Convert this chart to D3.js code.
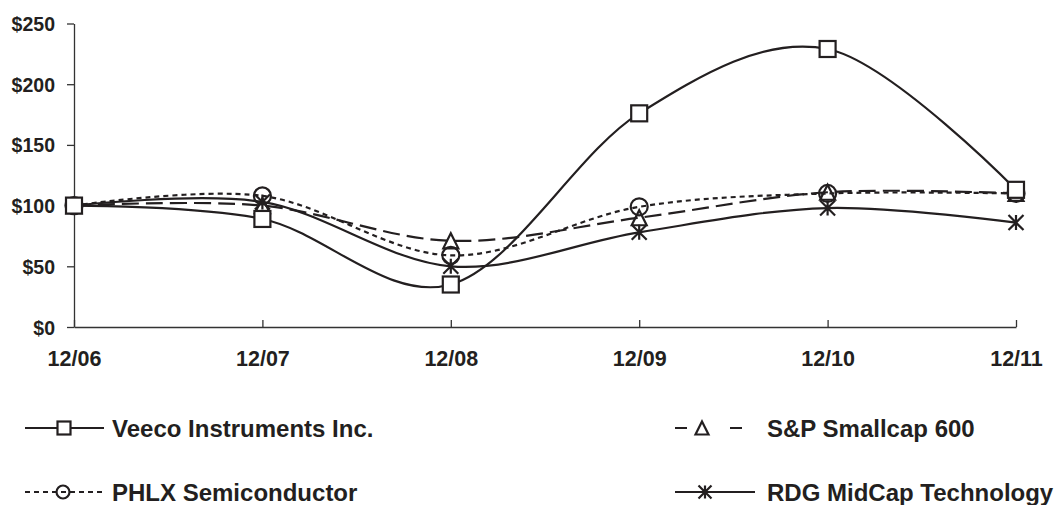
<!DOCTYPE html>
<html>
<head>
<meta charset="utf-8">
<script src="https://cdn.jsdelivr.net/npm/d3@7"></script>
<style>
  html, body { margin: 0; padding: 0; background: #fff; }
  svg { display: block; }
  text { font-family: "Liberation Sans", Arial, sans-serif; font-weight: bold; fill: #231f20; }
</style>
</head>
<body>
<svg id="chart" width="1058" height="505"></svg>
<script>
// ---- data ----
const categories = ["12/06", "12/07", "12/08", "12/09", "12/10", "12/11"];
const veeco = [100, 89, 35, 176, 229, 113];
const smallcap = [100, 100, 71, 90, 111, 110];
const phlx = [100, 108, 59, 99, 110, 110];
const rdg = [100, 103, 50, 78, 98, 86];
const yTicks = [0, 50, 100, 150, 200, 250];
const seriesNames = ["Veeco Instruments Inc.", "S&P Smallcap 600", "PHLX Semiconductor", "RDG MidCap Technology"];

const ink = "#231f20";
const svg = d3.select("#chart");

const x = d3.scalePoint().domain(categories).range([74, 1016]);
const y = d3.scaleLinear().domain([0, 250]).range([327, 23.5]);

// axes
const yAxis = svg.append("g").attr("transform", "translate(74,0)")
  .call(d3.axisLeft(y).tickValues(yTicks).tickSize(7).tickSizeOuter(0).tickFormat(d => "$" + d));
yAxis.select(".domain").attr("stroke", "#333").attr("stroke-width", 1.3);
yAxis.selectAll(".tick line").attr("stroke", "#333").attr("stroke-width", 1.3);
yAxis.selectAll(".tick text").attr("x", -19).attr("dy", "0.36em")
  .style("font-size", "19.5px").attr("fill", ink);

const xAxis = svg.append("g").attr("transform", "translate(0,327)")
  .call(d3.axisBottom(x).tickSize(-7).tickSizeOuter(0));
xAxis.select(".domain").attr("stroke", "#333").attr("stroke-width", 1.3);
xAxis.selectAll(".tick line").attr("stroke", "#333").attr("stroke-width", 1.3);
xAxis.selectAll(".tick text").attr("y", 39).attr("dy", 0)
  .style("font-size", "21.5px").attr("fill", ink);

// lines
const series = [
  { name: seriesNames[0], values: veeco, dash: null, marker: "square" },
  { name: seriesNames[1], values: smallcap, dash: "17,7", marker: "triangle" },
  { name: seriesNames[2], values: phlx, dash: "5,4", marker: "circle" },
  { name: seriesNames[3], values: rdg, dash: null, marker: "star" }
];

const line = d3.line()
  .x((d, i) => x(categories[i]))
  .y(d => y(d))
  .curve(d3.curveCardinal.tension(0));

function drawMarker(g, type, cx, cy, s) {
  const h = s / 2;
  if (type === "square") {
    g.append("rect").attr("x", cx - h).attr("y", cy - h).attr("width", s).attr("height", s)
      .attr("fill", "#fff").attr("stroke", ink).attr("stroke-width", 2.2);
  } else if (type === "circle") {
    g.append("circle").attr("cx", cx).attr("cy", cy).attr("r", h)
      .attr("fill", "none").attr("stroke", ink).attr("stroke-width", 2.2);
  } else if (type === "triangle") {
    g.append("path").attr("d", `M${cx},${cy - h}L${cx + h},${cy + h}L${cx - h},${cy + h}Z`)
      .attr("fill", "none").attr("stroke", ink).attr("stroke-width", 2.2);
  } else if (type === "star") {
    g.append("path").attr("d",
      `M${cx - h},${cy - h}L${cx + h},${cy + h}M${cx + h},${cy - h}L${cx - h},${cy + h}M${cx},${cy - h}L${cx},${cy + h}`)
      .attr("fill", "none").attr("stroke", ink).attr("stroke-width", 2.2);
  }
}

const plot = svg.append("g");
series.forEach(s => {
  plot.append("path").datum(s.values).attr("d", line)
    .attr("fill", "none").attr("stroke", ink).attr("stroke-width", 2.2)
    .attr("stroke-dasharray", s.dash);
});
// markers drawn in reverse so Veeco squares sit on top
[...series].reverse().forEach(s => {
  const g = plot.append("g");
  s.values.forEach((v, i) => {
    const size = s.marker === "circle" ? 17 : (s.marker === "square" ? 16 : 15);
    drawMarker(g, s.marker, x(categories[i]), y(v), size);
  });
});

// legend
const legendItems = [
  { s: series[0], x1: 25, x2: 104, mx: 64, y: 428, tx: 112 },
  { s: series[1], x1: 675, x2: 757, mx: 702, y: 428, tx: 767 },
  { s: series[2], x1: 25, x2: 105, mx: 63, y: 492, tx: 112 },
  { s: series[3], x1: 675, x2: 755, mx: 705, y: 492, tx: 767 }
];
const leg = svg.append("g");
legendItems.forEach(it => {
  const g = leg.append("g");
  if (it.s.marker === "triangle") {
    g.append("line").attr("x1", it.x1).attr("x2", it.x1 + 12).attr("y1", it.y).attr("y2", it.y)
      .attr("stroke", ink).attr("stroke-width", 2);
    g.append("line").attr("x1", it.x1 + 55).attr("x2", it.x1 + 67).attr("y1", it.y).attr("y2", it.y)
      .attr("stroke", ink).attr("stroke-width", 2);
  } else {
    g.append("line").attr("x1", it.x1).attr("x2", it.x2).attr("y1", it.y).attr("y2", it.y)
      .attr("stroke", ink).attr("stroke-width", 2)
      .attr("stroke-dasharray", it.s.dash ? "5,4" : null);
  }
  drawMarker(g, it.s.marker, it.mx, it.y, 13);
  g.append("text").attr("x", it.tx).attr("y", it.y + 9).style("font-size", "24px").text(it.s.name);
});
</script>
</body>
</html>
